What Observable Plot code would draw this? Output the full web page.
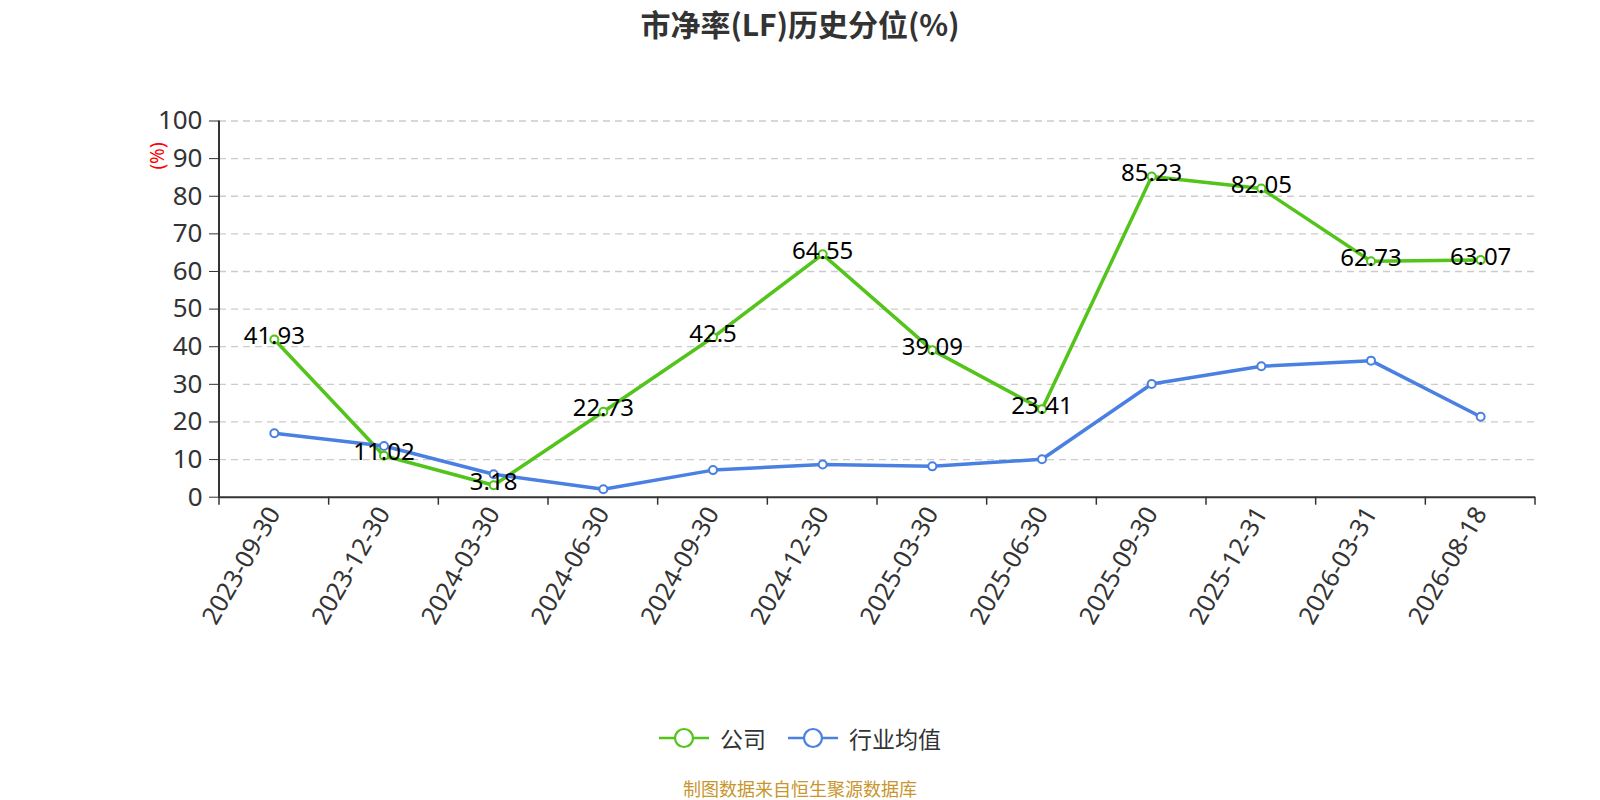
<!DOCTYPE html>
<html><head><meta charset="utf-8">
<script src="https://cdn.jsdelivr.net/npm/d3@7"></script>
<script src="https://cdn.jsdelivr.net/npm/@observablehq/plot@0.6"></script>
<style>
body{margin:0;background:#fff;font-family:"Noto Sans","Noto Sans CJK SC",sans-serif;}
#wrap{position:relative;width:1600px;height:800px;overflow:hidden;background:#fff;}
#title{position:absolute;left:0;width:1600px;top:0;height:46px;line-height:46px;text-align:center;font-size:30px;font-weight:bold;color:#333;font-family:"Noto Sans CJK SC","Noto Sans",sans-serif;}
#chart{position:absolute;left:0;top:50px;}
#ylab{position:absolute;left:157px;top:156px;transform:translate(-50%,-50%) rotate(-90deg);color:red;font-size:19px;line-height:20px;white-space:nowrap;}
#legend{position:absolute;top:722px;left:0;width:1600px;height:32px;display:flex;justify-content:center;align-items:center;gap:22px;}
.item{display:flex;align-items:center;gap:11px;font-size:23px;color:#333;font-family:"Noto Sans CJK SC",sans-serif;}
#source{position:absolute;top:778px;left:0;width:1600px;text-align:center;font-size:18px;line-height:20px;color:#c8962d;font-family:"Noto Sans CJK SC",sans-serif;}
</style></head>
<body>
<div id="wrap">
  <div id="title"></div>
  <div id="ylab"></div>
  <div id="chart"></div>
  <div id="legend"></div>
  <div id="source"></div>
</div>
<script>
const titleText = "市净率(LF)历史分位(%)";
const yLabelText = "(%)";
const sourceText = "制图数据来自恒生聚源数据库";
const dates = ["2023-09-30","2023-12-30","2024-03-30","2024-06-30","2024-09-30","2024-12-30","2025-03-30","2025-06-30","2025-09-30","2025-12-31","2026-03-31","2026-08-18"];
const company = [41.93, 11.02, 3.18, 22.73, 42.5, 64.55, 39.09, 23.41, 85.23, 82.05, 62.73, 63.07];
const industry = [17.0, 13.6, 6.1, 2.1, 7.2, 8.7, 8.2, 10.1, 30.1, 34.8, 36.3, 21.4];
const seriesNames = ["公司", "行业均值"];
const colors = ["#52c41a", "#4a80e2"];
const yTicks = [0, 10, 20, 30, 40, 50, 60, 70, 80, 90, 100];

document.getElementById("title").textContent = titleText;
document.getElementById("ylab").textContent = yLabelText;
document.getElementById("source").textContent = sourceText;

const rows = (vals, name) => dates.map((d, i) => ({date: d, value: vals[i], series: name}));
const compRows = rows(company, seriesNames[0]);
const indRows = rows(industry, seriesNames[1]);

const plot = Plot.plot({
  width: 1600, height: 650,
  marginLeft: 219, marginRight: 65, marginTop: 70.5, marginBottom: 203.3,
  style: {fontFamily: '"Noto Sans","Noto Sans CJK SC",sans-serif', fontSize: "22px", color: "#333", background: "transparent", overflow: "visible"},
  x: {type: "point", domain: dates, padding: 0.5, round: false, label: null, tickSize: 0, tickRotate: -60, tickPadding: 12},
  y: {domain: [0, 100], ticks: yTicks, tickSize: 10, tickPadding: 7, label: null},
  marks: [
    Plot.ruleY(yTicks.filter(t => t > 0), {stroke: "#ccc", strokeDasharray: "7,5", strokeWidth: 1.3}),
    Plot.ruleY([0], {stroke: "#333", strokeWidth: 2}),
    Plot.line(compRows, {x: "date", y: "value", stroke: colors[0], strokeWidth: 3.5}),
    Plot.dot(compRows, {x: "date", y: "value", r: 4, fill: "white", stroke: colors[0], strokeWidth: 2}),
    Plot.line(indRows, {x: "date", y: "value", stroke: colors[1], strokeWidth: 3.5}),
    Plot.dot(indRows, {x: "date", y: "value", r: 4, fill: "white", stroke: colors[1], strokeWidth: 2}),
    Plot.text(compRows, {x: "date", y: "value", text: d => String(d.value), fontSize: 24, fill: "black", dy: -3})
  ]
});

// axis tick label sizes
const svgSel = d3.select(plot);
svgSel.selectAll("g[aria-label*='x-axis'] text").style("font-size", "25px").attr("fill", "#333");
svgSel.selectAll("g[aria-label*='y-axis'] text").style("font-size", "26px").attr("fill", "#333");

// category-boundary ticks and y axis line, derived from the plot's scales
const xs = plot.scale("x");
const ys = plot.scale("y");
const band = d3.scaleBand().domain(xs.domain).range(xs.range).padding(0);
const edges = xs.domain.map(d => band(d)).concat([band(xs.domain[xs.domain.length - 1]) + band.bandwidth()]);
const g = svgSel.append("g").attr("stroke", "#333");
g.selectAll("line.xt").data(edges).join("line").attr("class", "xt")
  .attr("x1", d => d).attr("x2", d => d).attr("y1", ys.range[0]).attr("y2", ys.range[0] + 8).attr("stroke-width", 1.5);
g.append("line").attr("x1", xs.range[0]).attr("x2", xs.range[0]).attr("y1", ys.range[0] + 1).attr("y2", ys.range[1]).attr("stroke-width", 2);

document.getElementById("chart").appendChild(plot);

// legend
const legend = d3.select("#legend");
seriesNames.forEach((name, i) => {
  const item = legend.append("div").attr("class", "item");
  const s = item.append("svg").attr("width", 50).attr("height", 24);
  s.append("line").attr("x1", 0).attr("x2", 50).attr("y1", 12).attr("y2", 12).attr("stroke", colors[i]).attr("stroke-width", 2.5);
  s.append("circle").attr("cx", 25).attr("cy", 12).attr("r", 9).attr("fill", "white").attr("stroke", colors[i]).attr("stroke-width", 2.2);
  item.append("span").text(name);
});
</script>
</body></html>
